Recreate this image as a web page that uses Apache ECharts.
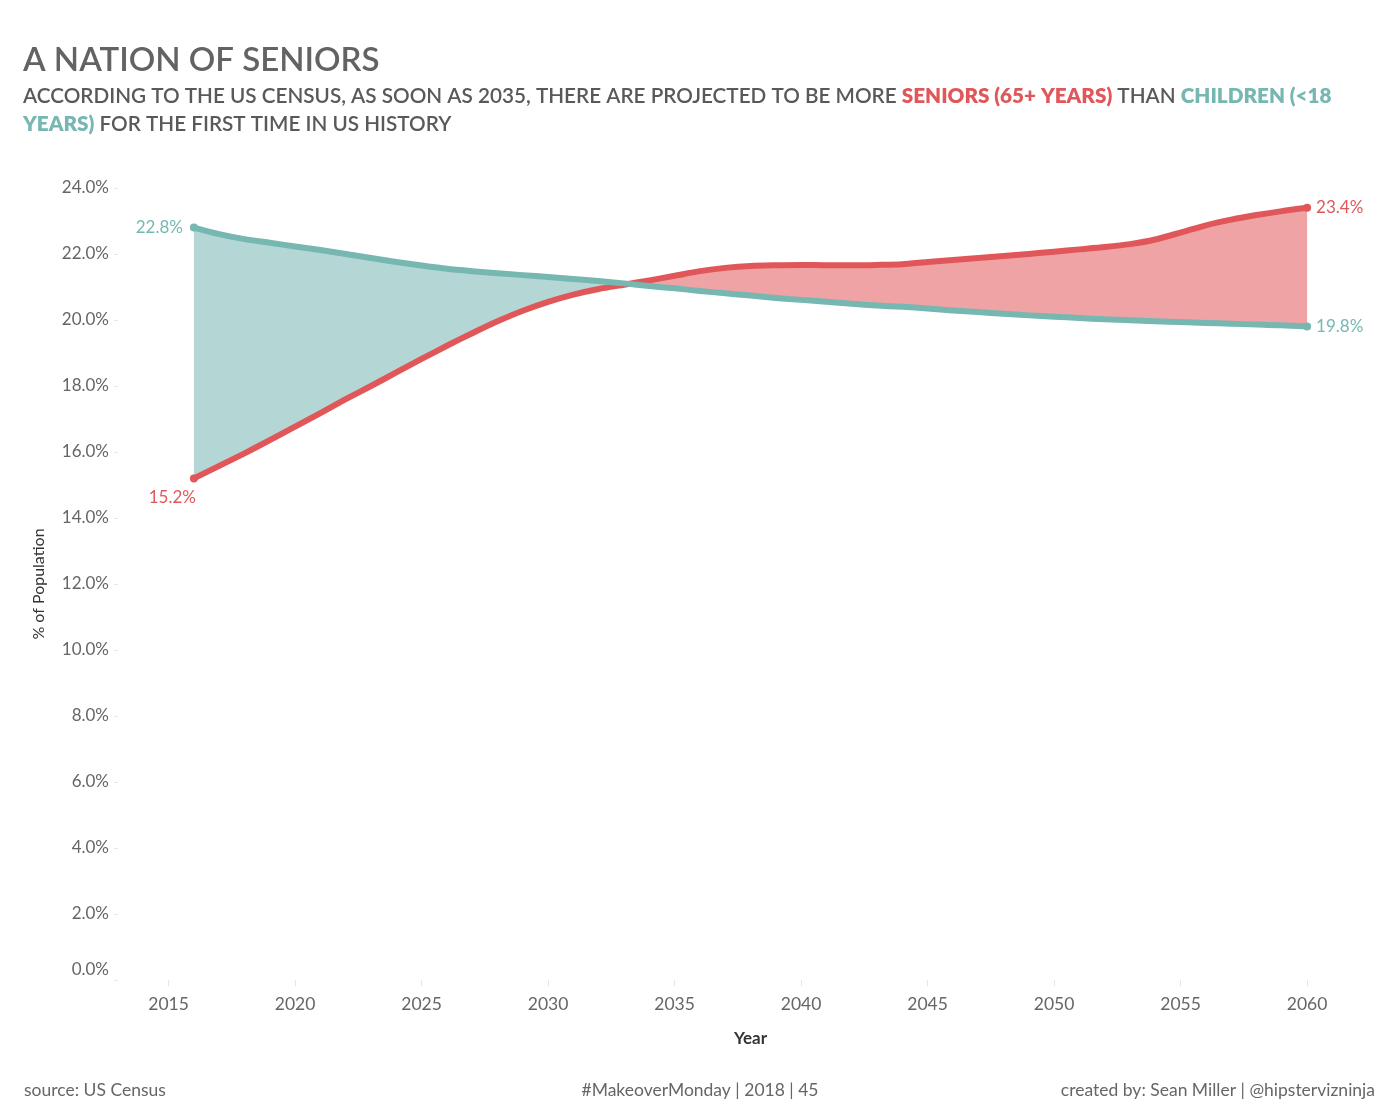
<!DOCTYPE html>
<html>
<head>
<meta charset="utf-8">
<script src="https://cdn.jsdelivr.net/npm/echarts@6/dist/echarts.min.js"></script>
<style>
  html, body { margin: 0; padding: 0; background: #fff; }
  #chart { width: 1400px; height: 1120px; }
</style>
</head>
<body>
<div id="chart"></div>
<script>
// axis runs a little past the data on both sides, like the original
const axisYears = [];
for (let y = 2013; y <= 2063; y++) axisYears.push(y);

const dataYears = [];
for (let y = 2016; y <= 2060; y++) dataYears.push(y);

// % of population under 18
const children = [
  22.8, 22.6, 22.45, 22.34, 22.23, 22.12, 22.0, 21.88, 21.76, 21.65,
  21.55, 21.48, 21.42, 21.36, 21.3, 21.24, 21.18, 21.11, 21.03, 20.96,
  20.88, 20.81, 20.74, 20.67, 20.61, 20.55, 20.49, 20.44, 20.4, 20.35,
  20.29, 20.24, 20.19, 20.14, 20.1, 20.06, 20.02, 19.99, 19.96, 19.94,
  19.91, 19.89, 19.86, 19.84, 19.8
];

// % of population 65+
const seniors = [
  15.2, 15.58, 15.96, 16.36, 16.77, 17.18, 17.6, 18.0, 18.41, 18.82,
  19.22, 19.6, 19.96, 20.28, 20.55, 20.77, 20.94, 21.07, 21.2, 21.34,
  21.48, 21.58, 21.64, 21.66, 21.67, 21.66, 21.66, 21.67, 21.69, 21.76,
  21.82, 21.88, 21.94, 22.0, 22.07, 22.14, 22.21, 22.3, 22.44, 22.65,
  22.87, 23.04, 23.18, 23.3, 23.4
];

const yTicks = [0, 2, 4, 6, 8, 10, 12, 14, 16, 18, 20, 22, 24];

const TEAL = '#76b7b2';
const RED = '#e15759';
const FONT = 'Lato, "Open Sans", sans-serif';
const SMOOTH = 0.25;

// put a data array (indexed by dataYears) onto the full axis
function onAxis(arr) {
  return axisYears.map(y => {
    const i = dataYears.indexOf(y);
    return i < 0 ? null : arr[i];
  });
}

const base = children.map((c, i) => Math.min(c, seniors[i]));
const tealBand = children.map((c, i) => Math.max(0, c - seniors[i]));
const redBand = children.map((c, i) => Math.max(0, seniors[i] - c));

function endLabels(arr, color, first, last) {
  const out = onAxis(arr);
  const i0 = axisYears.indexOf(dataYears[0]);
  const i1 = axisYears.indexOf(dataYears[dataYears.length - 1]);
  [[i0, first], [i1, last]].forEach(([i, pos]) => {
    out[i] = {
      value: out[i], symbol: 'circle', symbolSize: 8,
      label: Object.assign({show: true, color: color, fontSize: 17, fontFamily: FONT,
        formatter: v => v.value.toFixed(1) + '%'}, pos)
    };
  });
  return out;
}

const chart = echarts.init(document.getElementById('chart'));

chart.setOption({
  backgroundColor: '#fff',
  animation: false,
  textStyle: {fontFamily: FONT},
  title: [
    {
      text: 'A NATION OF SENIORS',
      left: 18, top: 39,
      textStyle: {fontSize: 33, fontWeight: 600, color: '#636363', fontFamily: FONT}
    },
    {
      text: '{g|ACCORDING TO THE US CENSUS, AS SOON AS 2035, THERE ARE PROJECTED TO BE MORE }{r|SENIORS (65+ YEARS)}{g| THAN }{t|CHILDREN (<18}\n{t|YEARS)}{g| FOR THE FIRST TIME IN US HISTORY}',
      left: 18, top: 77,
      textStyle: {
        rich: {
          g: {fontSize: 20.7, fontWeight: 600, color: '#595959', fontFamily: FONT, lineHeight: 28},
          r: {fontSize: 20.7, fontWeight: 800, color: RED, fontFamily: FONT, lineHeight: 28},
          t: {fontSize: 20.7, fontWeight: 800, color: TEAL, fontFamily: FONT, lineHeight: 28}
        }
      }
    },
    {
      text: 'source: US Census',
      left: 19, top: 1076,
      textStyle: {fontSize: 17.5, fontWeight: 'normal', color: '#666', fontFamily: FONT}
    },
    {
      text: '#MakeoverMonday | 2018 | 45',
      left: 'center', top: 1076,
      textStyle: {fontSize: 17.5, fontWeight: 'normal', color: '#666', fontFamily: FONT}
    },
    {
      text: 'created by: Sean Miller | @hipstervizninja',
      right: 20, top: 1076,
      textStyle: {fontSize: 17.5, fontWeight: 'normal', color: '#666', fontFamily: FONT}
    }
  ],
  grid: {left: 118, right: 17, top: 188, bottom: 140},
  xAxis: {
    type: 'category',
    data: axisYears,
    boundaryGap: false,
    name: 'Year',
    nameLocation: 'middle',
    nameGap: 50,
    nameTextStyle: {fontSize: 17, fontWeight: 'bold', color: '#333', fontFamily: FONT},
    axisLine: {show: false},
    axisTick: {
      show: true, length: 6,
      interval: (i, v) => Number(v) % 5 === 0,
      lineStyle: {color: '#e6e6e6'}
    },
    axisLabel: {
      interval: (i, v) => Number(v) % 5 === 0,
      margin: 15, fontSize: 17.5, color: '#666', fontFamily: FONT
    },
    splitLine: {show: false}
  },
  yAxis: {
    type: 'value',
    min: yTicks[0],
    max: yTicks[yTicks.length - 1],
    interval: 2,
    name: '% of Population',
    nameLocation: 'middle',
    nameGap: 71,
    nameTextStyle: {fontSize: 16, color: '#333', fontFamily: FONT},
    axisLine: {show: false},
    axisTick: {show: true, length: 4, lineStyle: {color: '#e6e6e6'}},
    axisLabel: {
      margin: 9, fontSize: 17, color: '#666', fontFamily: FONT,
      formatter: v => v === 0 ? '{z|0.0%}' : v.toFixed(1) + '%',
      rich: {z: {fontSize: 17, color: '#666', fontFamily: FONT, padding: [0, 0, 20, 0]}}
    },
    splitLine: {show: false}
  },
  series: [
    {
      name: 'base', type: 'line', stack: 'band', data: onAxis(base), smooth: SMOOTH,
      showSymbol: false, silent: true, lineStyle: {opacity: 0}
    },
    {
      name: 'childrenBand', type: 'line', stack: 'band', data: onAxis(tealBand), smooth: SMOOTH,
      showSymbol: false, silent: true, lineStyle: {opacity: 0},
      areaStyle: {color: TEAL, opacity: 0.55}
    },
    {
      name: 'seniorsBand', type: 'line', stack: 'band', data: onAxis(redBand), smooth: SMOOTH,
      showSymbol: false, silent: true, lineStyle: {opacity: 0},
      areaStyle: {color: RED, opacity: 0.55}
    },
    {
      name: 'Seniors', type: 'line', smooth: SMOOTH, data: endLabels(seniors, RED,
        {position: 'bottom', align: 'right', distance: 7, offset: [2, 0]},
        {position: 'right', distance: 5}),
      showSymbol: true, symbol: 'none', color: RED,
      lineStyle: {width: 6, color: RED, cap: 'round', join: 'round'}
    },
    {
      name: 'Children', type: 'line', smooth: SMOOTH, data: endLabels(children, TEAL,
        {position: 'left', distance: 7},
        {position: 'right', distance: 5}),
      showSymbol: true, symbol: 'none', color: TEAL,
      lineStyle: {width: 6, color: TEAL, cap: 'round', join: 'round'}
    }
  ]
});
</script>
</body>
</html>
